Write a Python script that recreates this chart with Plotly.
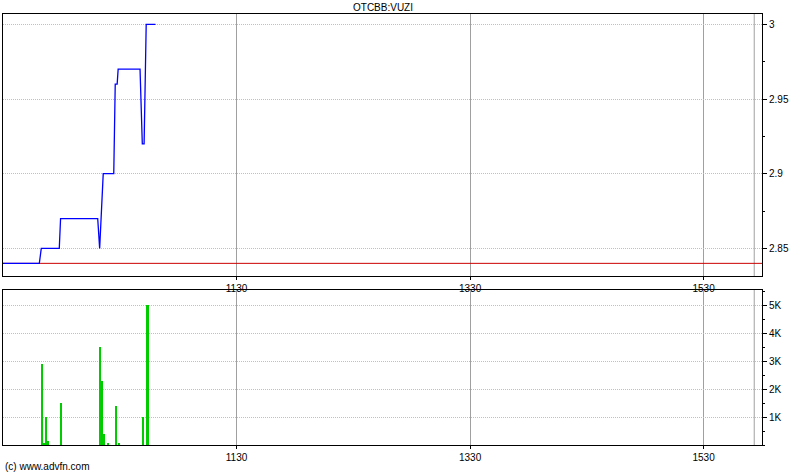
import plotly.graph_objects as go

DAY = "2011-06-01 "

# Price series (time, price)
price_times = ["09:30:00", "09:48:40", "09:49:40", "09:58:55", "09:59:35", "10:18:40",
               "10:19:40", "10:21:30", "10:26:55", "10:27:40", "10:28:40", "10:29:10",
               "10:40:25", "10:41:35", "10:42:30", "10:43:35", "10:48:20"]
price_values = [2.84, 2.84, 2.85, 2.85, 2.87, 2.87, 2.85, 2.90, 2.90, 2.96, 2.96, 2.97,
                2.97, 2.92, 2.92, 3.00, 3.00]
prev_close = 2.84

# Volume series
vol_times = ["09:50:10", "09:51:10", "09:52:10", "09:53:20", "10:00:00", "10:20:00",
             "10:21:00", "10:22:05", "10:24:05", "10:28:10", "10:29:50", "10:42:05", "10:44:20"]
vol_values = [2900, 70, 1000, 140, 1500, 3500, 2290, 390, 40, 1400, 70, 1000, 5000]

x_ticks = ["11:30", "13:30", "15:30"]
x_tick_labels = ["1130", "1330", "1530"]
price_ticks = [2.85, 2.9, 2.95, 3.0]
price_tick_labels = ["2.85", "2.9", "2.95", "3"]
vol_ticks = [1000, 2000, 3000, 4000, 5000]
vol_tick_labels = ["1K", "2K", "3K", "4K", "5K"]
session = ["09:30", "16:00"]
extra_grid = "15:56"

FONT = dict(family="Liberation Sans, Arial, sans-serif", size=10, color="black")
GRID = "#c4c4a4"
VGRID = "#a0a0a0"

fig = go.Figure()
fig.add_trace(go.Scatter(x=[DAY + session[0], DAY + session[1]], y=[prev_close, prev_close],
                         mode="lines", line=dict(color="#cc0000", width=1), xaxis="x", yaxis="y",
                         hoverinfo="skip"))
fig.add_trace(go.Scatter(x=[DAY + t for t in price_times], y=price_values, mode="lines",
                         line=dict(color="#0000ff", width=1.3), xaxis="x", yaxis="y"))
fig.add_trace(go.Bar(x=[DAY + t for t in vol_times], y=vol_values, marker=dict(color="#00cc00", line=dict(width=0)),
                     width=[40000] * (len(vol_values) - 1) + [75000], xaxis="x2", yaxis="y2"))

xcommon = dict(type="date", range=[DAY + session[0], DAY + session[1]],
               tickvals=[DAY + t for t in x_ticks], ticktext=x_tick_labels,
               showgrid=True, gridcolor=VGRID, gridwidth=1,
               ticks="outside", ticklen=3, tickcolor="black",
               showline=True, linecolor="black", linewidth=1, mirror=True,
               tickfont=FONT, zeroline=False, fixedrange=True)

ycommon = dict(side="right", tickfont=FONT, ticks="outside", ticklen=4, tickcolor="black",
               showgrid=True, gridcolor=GRID, gridwidth=1, griddash="1px,1px",
               showline=True, linecolor="black", linewidth=1, mirror=True, zeroline=False,
               automargin=False)

fig.update_layout(
    width=800, height=475,
    margin=dict(l=3, r=38, t=14, b=30, autoexpand=False),
    paper_bgcolor="white", plot_bgcolor="white",
    showlegend=False, bargap=0,
    xaxis=dict(domain=[0, 1], anchor="y", **xcommon),
    xaxis2=dict(domain=[0, 1], anchor="y2", **xcommon),
    yaxis=dict(domain=[0.392, 1], anchor="x", range=[2.8315, 3.0069],
               tickvals=price_ticks, ticktext=price_tick_labels,
               minor=dict(ticks="outside", ticklen=2, dtick=0.025, tickcolor="black", showgrid=False),
               **ycommon),
    yaxis2=dict(domain=[0, 0.3596], anchor="x2", range=[0, 5540],
                tickvals=vol_ticks, ticktext=vol_tick_labels,
                minor=dict(ticks="outside", ticklen=2, dtick=500, tickcolor="black", showgrid=False),
                **ycommon),
    shapes=[
        dict(type="line", xref="x", yref="y domain", x0=DAY + extra_grid, x1=DAY + extra_grid,
             y0=0, y1=1, line=dict(color=VGRID, width=1), layer="below"),
        dict(type="line", xref="x2", yref="y2 domain", x0=DAY + extra_grid, x1=DAY + extra_grid,
             y0=0, y1=1, line=dict(color=VGRID, width=1), layer="below"),
    ],
    annotations=[
        dict(text="OTCBB:VUZI", xref="paper", yref="paper", x=0.5, y=1 + 7 / 431,
             showarrow=False, font=FONT, xanchor="center", yanchor="middle"),
        dict(text="(c) www.advfn.com", xref="paper", yref="paper", x=0, y=-21 / 431,
             showarrow=False, font=FONT, xanchor="left", yanchor="middle"),
    ],
)

fig.write_html("out.html", config={"displayModeBar": False},
               post_script="document.body.style.margin='0';document.body.style.overflow='hidden';")
